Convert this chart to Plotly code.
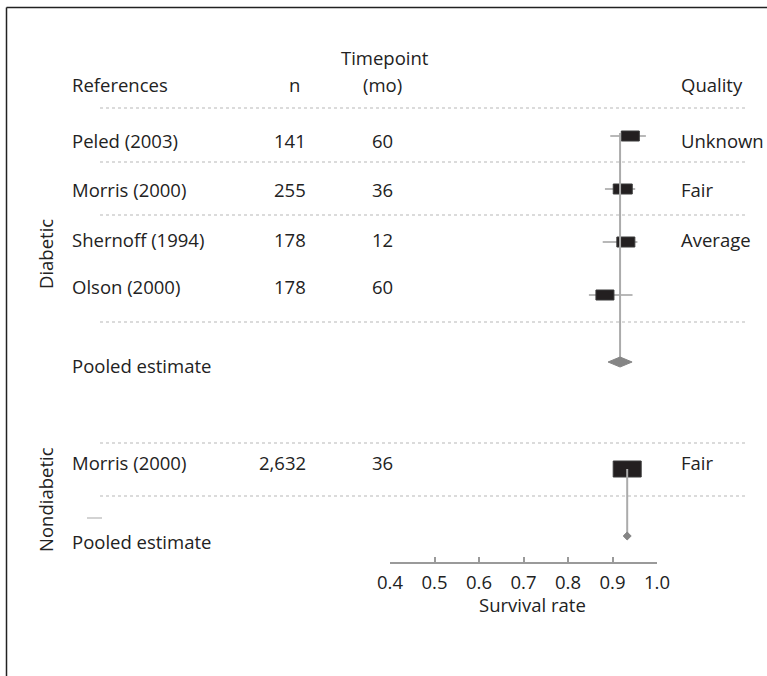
import plotly.graph_objects as go

# ---- data -------------------------------------------------------------
studies = ["Peled (2003)", "Morris (2000)", "Shernoff (1994)", "Olson (2000)", "Morris (2000)"]
groups = ["Diabetic", "Diabetic", "Diabetic", "Diabetic", "Nondiabetic"]
n_values = ["141", "255", "178", "178", "2,632"]
timepoints = ["60", "36", "12", "60", "36"]
quality = ["Unknown", "Fair", "Average", "", "Fair"]
estimate = [0.940, 0.923, 0.930, 0.883, 0.933]
ci_low = [0.895, 0.883, 0.878, 0.847, 0.930]
ci_high = [0.975, 0.951, 0.956, 0.945, 0.936]

pooled_groups = ["Diabetic", "Nondiabetic"]
pooled_est = [0.917, 0.933]
pooled_low = [0.890, 0.924]
pooled_high = [0.944, 0.942]

tick_values = [0.4, 0.5, 0.6, 0.7, 0.8, 0.9, 1.0]
tick_labels = ["0.4", "0.5", "0.6", "0.7", "0.8", "0.9", "1.0"]

# ---- layout constants ------------------------------------------------
W, H = 767, 676
AX_X0, AX_X1 = 390, 657          # pixel extent of the survival-rate axis
AX_Y = 563                       # pixel row of the axis line
PX_PER_UNIT = (AX_X1 - AX_X0) / (tick_values[-1] - tick_values[0])

mark_y = [136, 189, 242, 295, 469]       # study marker rows
text_y = [140, 189, 239, 286, 462]       # study label rows
box_w_px = [18, 19, 18, 18, 28]          # square size ~ study weight
box_h_px = [10, 10, 10, 10, 16]
pooled_mark_y = [362, 536]
pooled_text_y = [365, 541]
pooled_h_px = [10, 8]
line_top = [133, 469]                    # top of each pooled reference line
separators = [108, 162, 215, 322, 443, 496]

TEXT = "#222222"
FONT = "Open Sans"
FS = 18.5


def px(x):
    return x / W


fig = go.Figure()

# confidence-interval whiskers
fig.add_trace(go.Scatter(
    x=estimate, y=mark_y, mode="markers",
    marker=dict(size=1, color="rgba(0,0,0,0)"),
    error_x=dict(type="data", symmetric=False,
                 array=[h - e for h, e in zip(ci_high, estimate)],
                 arrayminus=[e - l for e, l in zip(estimate, ci_low)],
                 width=0, color="#a0a0a0", thickness=1.5),
    hoverinfo="skip", showlegend=False,
))

shapes = []
# dotted row separators
for yy in separators:
    shapes.append(dict(type="line", xref="paper", yref="y", x0=px(100), x1=px(747),
                       y0=yy, y1=yy, line=dict(color="#cfcfcf", width=1.5, dash="dot"),
                       layer="below"))
# study squares
for e, yy, bw, bh in zip(estimate, mark_y, box_w_px, box_h_px):
    hw = bw / 2 / PX_PER_UNIT
    shapes.append(dict(type="rect", xref="x", yref="y", x0=e - hw, x1=e + hw,
                       y0=yy - bh / 2, y1=yy + bh / 2,
                       fillcolor="#231f20", line=dict(color="#3a3a3a", width=1),
                       layer="above"))
# pooled reference lines and diamonds
for pe, lo, hi, top, yy, dh in zip(pooled_est, pooled_low, pooled_high,
                                   line_top, pooled_mark_y, pooled_h_px):
    shapes.append(dict(type="line", xref="x", yref="y", x0=pe, x1=pe, y0=top, y1=yy,
                       line=dict(color="#ababab", width=2), layer="above"))
    path = f"M {lo},{yy} L {pe},{yy - dh / 2} L {hi},{yy} L {pe},{yy + dh / 2} Z"
    shapes.append(dict(type="path", xref="x", yref="y", path=path,
                       fillcolor="#858585", line=dict(color="#858585", width=1),
                       layer="above"))
# small stray rule left of the nondiabetic block
shapes.append(dict(type="line", xref="paper", yref="y", x0=px(87), x1=px(102),
                   y0=518, y1=518, line=dict(color="#c4c4c4", width=1.5)))
# frame on the top and left
shapes.append(dict(type="line", xref="paper", yref="paper", x0=px(6.5), x1=1,
                   y0=1 - 7.5 / H, y1=1 - 7.5 / H, line=dict(color="#222", width=1.5)))
shapes.append(dict(type="line", xref="paper", yref="paper", x0=px(6.5), x1=px(6.5),
                   y0=0, y1=1 - 7.5 / H, line=dict(color="#222", width=1.5)))

ann = []


def label(text, x, y, anchor="left", angle=0):
    ann.append(dict(text=text, xref="paper", yref="y", x=px(x), y=y,
                    xanchor=anchor, yanchor="middle", showarrow=False,
                    borderpad=0, borderwidth=0,
                    textangle=angle, font=dict(family=FONT, size=FS, color=TEXT)))


# column headers
label("References", 72, 84)
label("n", 294, 84, "center")
label("Timepoint", 385, 57, "center")
label("(mo)", 382, 84, "center")
label("Quality", 681, 84)

# study rows
for s, nv, tp, q, ty in zip(studies, n_values, timepoints, quality, text_y):
    label(s, 72, ty)
    label(nv, 306, ty, "right")
    label(tp, 382, ty, "center")
    if q:
        label(q, 681, ty)

for ty in pooled_text_y:
    label("Pooled estimate", 72, ty)

# group labels
label(pooled_groups[0], 45, 254, "center", -90)
label(pooled_groups[1], 45, 500, "center", -90)

# axis title
label("Survival rate", 532, 604, "center")

fig.update_layout(
    width=W, height=H,
    margin=dict(l=0, r=0, t=0, b=0, pad=0, autoexpand=False),
    paper_bgcolor="white", plot_bgcolor="white",
    showlegend=False,
    shapes=shapes, annotations=ann,
    xaxis=dict(domain=[px(AX_X0), px(AX_X1)], range=[tick_values[0], tick_values[-1]],
               anchor="free", position=(H - AX_Y) / H,
               showline=True, linecolor="#9a9a9a", linewidth=1.5,
               ticks="inside", ticklen=5, tickwidth=1.5, tickcolor="#9a9a9a",
               tickvals=tick_values, ticktext=tick_labels, ticklabelstandoff=3,
               tickfont=dict(family=FONT, size=FS, color=TEXT),
               showgrid=False, zeroline=False, fixedrange=True, automargin=False),
    yaxis=dict(domain=[0, 1], range=[H, 0], visible=False, fixedrange=True),
)

fig.write_html("out.html")
